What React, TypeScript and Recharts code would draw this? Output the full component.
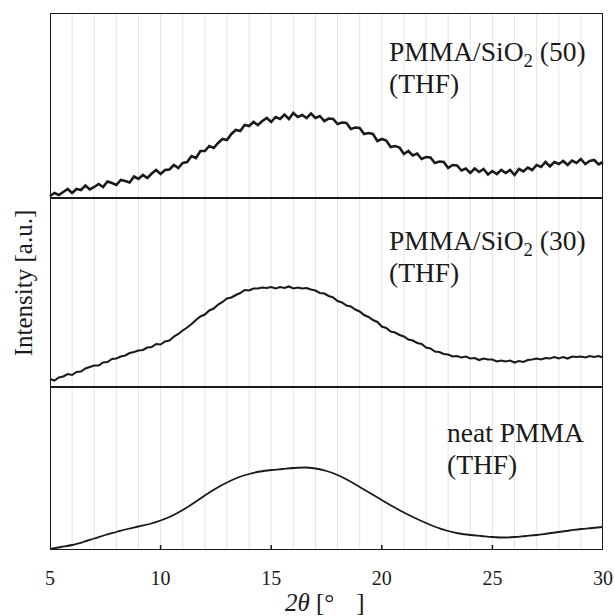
import React from 'react';
import { LineChart, Line, XAxis, YAxis, ReferenceLine } from 'recharts';

// 2θ sampling for the two noisy scans (step 0.2°), 5° .. 30°
const angles = Array.from({ length: 126 }, (_, i) => +(5 + i * 0.2).toFixed(1));

// PMMA/SiO2 (50) – heights in panel units (0..185)
const sio2_50 = [
  2, 5, 3, 6, 9, 5, 9, 8, 12.5, 8.5, 11, 14, 11, 16.5, 15, 13, 18, 17, 15.5, 21.5,
  19, 23, 20, 24.5, 28, 24, 28, 28.5, 33, 30, 35, 36, 42, 40, 47, 47, 52, 50, 55, 59,
  58, 64, 68, 67, 73, 72, 76, 73, 77, 80, 76, 81, 79, 83.5, 79, 85, 81, 83, 80, 84.5,
  80, 82, 77, 79.5, 79, 74, 75.5, 75, 69, 70.5, 70, 64, 65, 64, 57, 59, 57.5, 51, 52, 50.5,
  44, 47, 42.5, 44.5, 39, 41, 40.5, 35, 36.5, 36, 30, 33, 32.5, 27.5, 29.5, 25, 29.5, 26, 29, 23.5,
  27, 24, 28, 25, 28, 23, 29, 26.5, 30.5, 28, 33, 31, 36, 31.5, 36, 34, 37, 33, 37.5, 35,
  39, 34, 37, 38, 33.5, 36,
];

// PMMA/SiO2 (30) – heights in panel units (0..189)
const sio2_30 = [
  8, 6.5, 9.5, 10.5, 13, 12, 15, 15.5, 18.5, 20, 21.5, 21.5, 24.5, 25, 28, 28.5, 30.5, 31.5, 34, 35,
  36.5, 37, 39.5, 40, 43, 42.5, 45.5, 46.5, 50.5, 53, 56.5, 59.5, 63, 67, 70.5, 72.5, 76.5, 78.5, 82.5, 85,
  88.5, 89.5, 92, 94, 97, 96.5, 98.5, 98.5, 99.5, 99, 100, 98.5, 100, 99, 100.5, 98.5, 99.5, 98.5, 99, 97.5,
  96.5, 94, 93.5, 91, 89.5, 86, 84.5, 81.5, 80.5, 77.5, 75.5, 72, 70, 67, 65, 60.5, 59, 55.5, 54.5, 52,
  50.5, 47.5, 46.5, 44, 43, 39.5, 38.5, 35.5, 35, 33, 32.5, 30.5, 31, 29.5, 30.5, 28.5, 29, 27, 28.5, 27.5,
  27.5, 25.5, 26.5, 25.5, 26.5, 24.5, 26, 25, 27, 27.5, 28.5, 27.5, 29, 28.5, 30, 28.5, 30, 28.5, 30.5, 30,
  30.5, 29.5, 31, 30, 31, 29.5,
];

// neat PMMA – smooth scan, 0.5° step, heights in panel units (0..163)
const neatAngles = Array.from({ length: 51 }, (_, i) => 5 + i * 0.5);
const neat = [
  1, 3, 5, 8, 11.5, 15, 18, 21, 23.5, 26, 29.5, 34, 40, 47, 54.5, 61.5, 67.5, 72.5, 76, 78.5,
  80, 81, 82, 82.5, 81.5, 79, 75, 69.5, 63, 56.5, 50, 43.5, 37.5, 32, 27, 22.5, 19, 16.5, 15, 14,
  13, 12.5, 13, 14, 15, 16.5, 18, 19.5, 21, 22, 23,
];

const gridDeg = Array.from({ length: 24 }, (_, i) => 6 + i);
const xTicks = [5, 10, 15, 20, 25, 30];
const innerTicks = [10, 15, 20, 25];

const rows50 = angles.map((a, i) => ({ a, v: sio2_50[i] }));
const rows30 = angles.map((a, i) => ({ a, v: sio2_30[i] }));
const rowsNeat = neatAngles.map((a, i) => ({ a, v: neat[i] }));

const serif = '"Times New Roman", Tinos, "Liberation Serif", "DejaVu Serif", serif';
const ink = '#1a1a1a';
const M = { top: 0, right: 12, bottom: 0, left: 50 };

const Sub2 = () => (
  <span style={{ fontSize: '0.68em', position: 'relative', top: '0.3em', lineHeight: 0 }}>2</span>
);

const Note = ({ top, left, children }: { top: number; left: number; children: React.ReactNode }) => (
  <div style={{ position: 'absolute', top, left, fontFamily: serif, fontSize: 27.5, lineHeight: '32px', color: ink, whiteSpace: 'nowrap' }}>
    {children}
  </div>
);

const grid = () =>
  gridDeg.map(d => <ReferenceLine key={d} x={d} stroke="#e4e4e4" strokeWidth={1} ifOverflow="hidden" />);

export default function App() {
  return (
    <div style={{ position: 'absolute', left: 0, top: 0, width: 615, height: 616, background: '#fff', overflow: 'hidden', fontFamily: serif }}>
      <div style={{ position: 'absolute', left: 0, top: 13 }}>
        <LineChart width={615} height={185} data={rows50} margin={M}>
          <XAxis dataKey="a" type="number" domain={[5, 30]} hide />
          <YAxis type="number" domain={[0, 185]} hide />
          {grid()}
          <Line dataKey="v" type="linear" stroke={ink} strokeWidth={2.6} dot={false} isAnimationActive={false} />
        </LineChart>
      </div>
      <div style={{ position: 'absolute', left: 0, top: 198 }}>
        <LineChart width={615} height={189} data={rows30} margin={M}>
          <XAxis dataKey="a" type="number" domain={[5, 30]} hide />
          <YAxis type="number" domain={[0, 189]} hide />
          {grid()}
          <Line dataKey="v" type="linear" stroke={ink} strokeWidth={2.1} dot={false} isAnimationActive={false} />
        </LineChart>
      </div>
      <div style={{ position: 'absolute', left: 0, top: 387 }}>
        <LineChart width={615} height={203} data={rowsNeat} margin={M}>
          <XAxis
            dataKey="a"
            type="number"
            domain={[5, 30]}
            ticks={xTicks}
            height={40}
            axisLine={false}
            tickLine={false}
            tickMargin={15}
            tick={{ fontSize: 20, fill: ink, fontFamily: serif }}
            interval={0}
          />
          <YAxis type="number" domain={[0, 163]} hide />
          {grid()}
          {innerTicks.map(t => (
            <ReferenceLine key={'t' + t} segment={[{ x: t, y: 0 }, { x: t, y: 5 }]} stroke={ink} strokeWidth={1.5} />
          ))}
          <Line dataKey="v" type="monotone" stroke={ink} strokeWidth={1.8} dot={false} isAnimationActive={false} />
        </LineChart>
      </div>

      {/* frame and panel dividers */}
      <div style={{ position: 'absolute', left: 50, top: 13, width: 553, height: 537, border: `1.5px solid ${ink}`, boxSizing: 'border-box' }} />
      <div style={{ position: 'absolute', left: 50, top: 197, width: 553, height: 1.5, background: ink }} />
      <div style={{ position: 'absolute', left: 50, top: 386, width: 553, height: 1.5, background: ink }} />

      <Note top={36} left={389}>PMMA/SiO<Sub2 /> (50)<br />(THF)</Note>
      <Note top={225} left={389}>PMMA/SiO<Sub2 /> (30)<br />(THF)</Note>
      <Note top={417} left={447}>neat PMMA<br />(THF)</Note>

      <div style={{ position: 'absolute', left: 24 - 110, top: 283 - 16, width: 220, height: 32, textAlign: 'center', transform: 'rotate(-90deg)', fontFamily: serif, fontSize: 25, lineHeight: '32px', color: ink }}>
        Intensity [a.u.]
      </div>
      <div style={{ position: 'absolute', left: 285, top: 588, whiteSpace: 'nowrap', fontFamily: serif, fontSize: 25, lineHeight: '30px', color: ink }}>
        <i>2θ</i> [°<span style={{ display: 'inline-block', width: 22 }} />]
      </div>
    </div>
  );
}
